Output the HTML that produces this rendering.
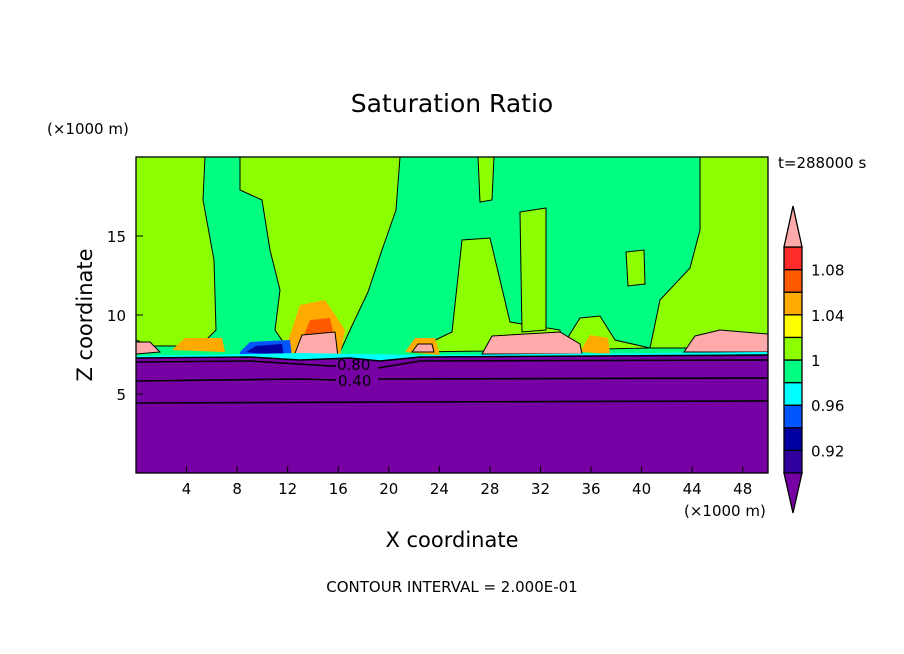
<!DOCTYPE html>
<html><head><meta charset="utf-8"><style>
body{margin:0;background:#fff;}
svg{display:block;font-family:"DejaVu Sans","Liberation Sans",sans-serif;}
</style></head><body>
<svg id="c" width="904" height="654" viewBox="0 0 904 654">
<defs><clipPath id="pc"><rect x="136" y="157" width="632" height="316"/></clipPath></defs>
<g id="plot" clip-path="url(#pc)">
<rect x="136" y="157" width="632" height="316" fill="#00ff80"/>
<g fill="#8cff00" stroke="#000" stroke-width="1">
<polygon points="136,157 205,157 203,200 214,260 216,330 200,346 150,346 136,340"/>
<polygon points="240,157 400,157 396,210 382,250 368,292 350,330 340,352 290,352 275,330 280,290 270,250 262,200 240,190"/>
<polygon points="478,157 494,157 492,200 480,202"/>
<polygon points="410,352 452,332 462,240 490,238 500,280 510,322 560,330 562,350"/>
<polygon points="520,212 546,208 546,330 522,332"/>
<polygon points="626,252 644,250 645,284 628,286"/>
<polygon points="700,157 768,157 768,348 650,348 660,300 690,268 700,230"/>
<polygon points="560,350 580,318 600,316 615,340 650,348"/>
</g>
<g fill="#ffaa00"><polygon points="285,350 300,305 325,300 345,330 340,356 290,356"/><polygon points="405,352 415,338 435,338 440,355"/><polygon points="172,350 185,338 222,338 225,352"/><polygon points="580,352 590,335 608,338 610,354"/></g>
<g fill="#ff5a00"><polygon points="298,350 310,320 330,318 338,354"/></g>
<g fill="#ffaaaa" stroke="#000"><polygon points="294,356 302,335 335,332 338,357"/><polygon points="482,354 492,336 560,332 580,344 582,354"/><polygon points="684,352 695,336 720,330 768,334 768,352"/><polygon points="136,354 136,342 150,342 160,352"/><polygon points="412,352 418,344 432,344 434,352"/></g>
<g fill="#0055ff"><polygon points="240,352 250,342 290,340 292,358 240,358"/></g>
<g fill="#0000a0"><polygon points="246,352 256,346 282,344 284,356"/></g>
<polygon fill="#00ffff" points="136,356 300,353 420,355 768,352 768,360 136,362"/>
<polygon fill="#7700a5" points="136,358 250,357 300,360 350,358 380,361 420,357 768,355 768,473 136,473"/>
<g fill="none" stroke="#000" stroke-width="1.6">
<polyline points="136,358 250,357 300,360 350,358 380,361 420,357 768,355"/>
<polyline points="136,362 250,361 330,366 336,366"/>
<polyline points="378,368 390,366 420,361 768,360"/>
<polyline points="136,381 300,379 336,380"/>
<polyline points="378,379 768,378"/>
<polyline points="136,403 400,402 768,401"/>
</g>
<text x="337" y="370" font-size="15">0.80</text>
<text x="338" y="386" font-size="15">0.40</text>
</g>
<rect x="136" y="157" width="632" height="316" fill="none" stroke="#000" stroke-width="1.3"/>
<g id="axes"></g>
<g id="cbar"></g>
<text x="452" y="112" font-size="25" text-anchor="middle">Saturation Ratio</text>
<text x="47" y="134" font-size="15">(×1000 m)</text>
<text x="778" y="168" font-size="15">t=288000 s</text>
<text x="684" y="516" font-size="15">(×1000 m)</text>
<text x="452" y="547" font-size="21" text-anchor="middle">X coordinate</text>
<text transform="translate(92,315) rotate(-90)" font-size="21" text-anchor="middle">Z coordinate</text>
<text x="452" y="592" font-size="15" text-anchor="middle">CONTOUR INTERVAL = 2.000E-01</text>
</svg>
<script>
const xTicks=[4,8,12,16,20,24,28,32,36,40,44,48];
const yTicks=[5,10,15];
const cbarColors=["#3300a0","#0000a0","#0055ff","#00ffff","#00ff80","#8cff00","#ffff00","#ffaa00","#ff5a00","#ff2a2a"];
const cbarLabels=["0.92","0.96","1","1.04","1.08"];
const cbarLabelLevels=[0.92,0.96,1.00,1.04,1.08];
const NS="http://www.w3.org/2000/svg";
const X=v=>136+v/50*632, Y=v=>473-v/20*316;
function mk(t,a,p){const e=document.createElementNS(NS,t);for(const k in a)e.setAttribute(k,a[k]);p.appendChild(e);return e;}
const ax=document.getElementById('axes');
xTicks.forEach(v=>{
 const l=mk('line',{x1:X(v),x2:X(v),y1:473,y2:466,stroke:'#000'},ax);
 
 
 const t=mk('text',{x:X(v),y:494,'font-size':15,'text-anchor':'middle'},ax);t.textContent=v;
 
 
});
yTicks.forEach(v=>{
 const l=mk('line',{x1:136,x2:143,y1:Y(v),y2:Y(v),stroke:'#000'},ax);
 
 
 const t=mk('text',{x:126,y:Y(v)+6,'font-size':15,'text-anchor':'end'},ax);t.textContent=v;
 
 
});
const cb=document.getElementById('cbar');
const bx=784,bw=18,bt=247,bb=473,bh=(bb-bt)/cbarColors.length;
const lv=v=>bb-(v-0.90)/0.02*bh;
cbarColors.forEach((c,i)=>{
 const r=mk('rect',{x:bx,y:bb-(i+1)*bh,width:bw,height:bh,fill:c,stroke:'#000','stroke-width':1.3},cb);
 
 
});
const tt=mk('polygon',{points:`${bx},${bt} ${bx+bw},${bt} ${bx+bw/2},206`,fill:'#ffaaaa',stroke:'#000','stroke-width':1.3},cb);


const bt2=mk('polygon',{points:`${bx},${bb} ${bx+bw},${bb} ${bx+bw/2},513`,fill:'#7700a5',stroke:'#000','stroke-width':1.3},cb);


cbarLabels.forEach((s,i)=>{
 const t=mk('text',{x:811,y:lv(cbarLabelLevels[i])+6,'font-size':15},cb);t.textContent=s;
 
 
});
</script>
</body></html>
